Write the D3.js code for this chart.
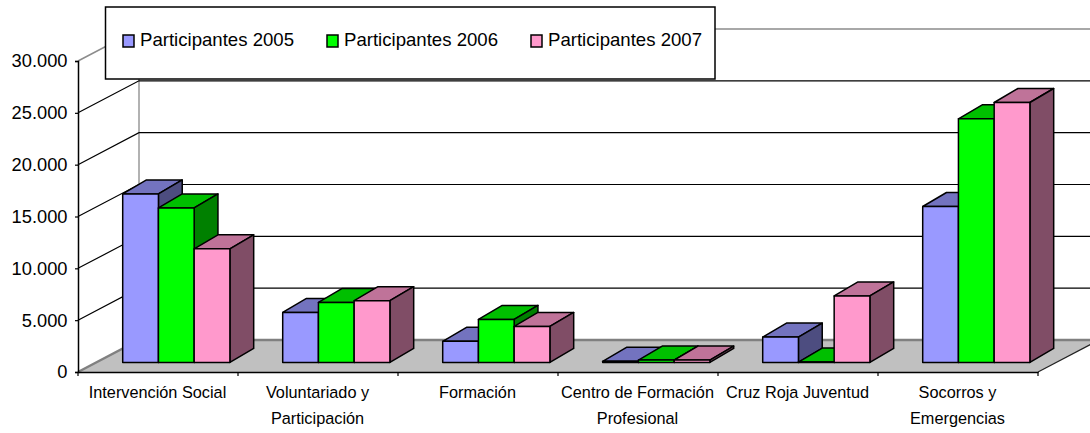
<!DOCTYPE html>
<html>
<head>
<meta charset="utf-8">
<script src="https://cdn.jsdelivr.net/npm/d3@7"></script>
<style>
  html, body { margin: 0; padding: 0; background: #fff; overflow: hidden; }
  text { font-family: "Liberation Sans", Arial, sans-serif; fill: #000; }
</style>
</head>
<body>
<div id="chart"></div>
<script>
const categories = ["Intervención Social", "Voluntariado y Participación", "Formación",
  "Centro de Formación Profesional", "Cruz Roja Juventud", "Socorros y Emergencias"];
const categoryLines = [["Intervención Social"], ["Voluntariado y", "Participación"], ["Formación"],
  ["Centro de Formación", "Profesional"], ["Cruz Roja Juventud"], ["Socorros y", "Emergencias"]];
const seriesNames = ["Participantes 2005", "Participantes 2006", "Participantes 2007"];
const values2005 = [16250, 4820, 2030, 100, 2440, 15040];
const values2006 = [14900, 5790, 4150, 220, 30, 23500];
const values2007 = [10960, 5950, 3470, 220, 6410, 25070];
const yTicks = [0, 5000, 10000, 15000, 20000, 25000, 30000];
const colors = ["#9999ff", "#00ff00", "#ff99cc"];
const seriesValues = [values2005, values2006, values2007];

const width = 1090, height = 433,
  wallX = 61, wallY = -32,   // shift from the front edge to the back wall
  barFront = 0.3, barBack = 0.69;

const x = d3.scaleBand().domain(categories).range([78, 1038]).paddingInner(0.33).paddingOuter(0.165);
const x1 = d3.scaleBand().domain(seriesNames).range([0, x.bandwidth()]);
const y = d3.scaleLinear().domain([0, 30000]).range([372, 61]);
const xFull = d3.scalePoint().domain(categories).range([78, 1038]);

const locale = d3.formatLocale({ decimal: ",", thousands: ".", grouping: [3], currency: ["", "€"] });

const svg = d3.select("#chart").append("svg")
  .attr("width", width)
  .attr("height", height)
  .attr("viewBox", [0, 0, width, height])
  .style("display", "block");

const x0 = x.range()[0], xEnd = x.range()[1];
const pts = p => p.map(d => d.join(",")).join(" ");

// floor
svg.append("polygon")
  .attr("points", pts([[x0, y(0)], [x0 + wallX, y(0) + wallY], [xEnd + wallX, y(0) + wallY], [xEnd, y(0)]]))
  .attr("fill", "#c0c0c0");
svg.append("polyline")
  .attr("points", pts([[x0, y(0)], [x0 + wallX, y(0) + wallY], [xEnd + wallX, y(0) + wallY]]))
  .attr("fill", "none")
  .attr("stroke", "#808080")
  .attr("stroke-width", 2.5);

// back wall grid and left wall lines
svg.append("line")
  .attr("x1", x0 + wallX).attr("x2", x0 + wallX)
  .attr("y1", y(30000) + wallY).attr("y2", y(0) + wallY)
  .attr("stroke", "#999").attr("stroke-width", 1.5);

const gridTicks = yTicks.filter(d => d > 0);
svg.append("g").selectAll("polyline")
  .data(gridTicks)
  .join("polyline")
  .attr("points", d => pts([[x0, y(d)], [x0 + wallX, y(d) + wallY], [xEnd + wallX, y(d) + wallY]]))
  .attr("fill", "none")
  .attr("stroke", d => d === 30000 ? "#8c8c8c" : "#000")
  .attr("stroke-width", d => d === 30000 ? 1.5 : 1.2);

svg.append("line")
  .attr("x1", xEnd).attr("y1", y(0))
  .attr("x2", xEnd + wallX).attr("y2", y(0) + wallY)
  .attr("stroke", "#222").attr("stroke-width", 1.2);

// bars, left to right so later ones cover the earlier side faces
const shade = (c, k) => { const r = d3.rgb(c); return d3.rgb(r.r * k, r.g * k, r.b * k).formatHex(); };
const bars = categories.flatMap((c, i) => seriesNames.map((s, j) => ({
  category: c, series: s, color: colors[j], value: seriesValues[j][i]
})));

const bar = svg.append("g")
  .attr("stroke", "#000")
  .attr("stroke-width", 1.5)
  .attr("stroke-linejoin", "round")
  .selectAll("g")
  .data(bars)
  .join("g");

const fx = d => x(d.category) + x1(d.series) + barFront * wallX;
const fy = v => y(v) + barFront * wallY;
const depthX = (barBack - barFront) * wallX, depthY = -14;

bar.append("polygon")
  .attr("fill", d => shade(d.color, 0.75))
  .attr("points", d => pts([[fx(d), fy(d.value)], [fx(d) + depthX, fy(d.value) + depthY],
    [fx(d) + x1.bandwidth() + depthX, fy(d.value) + depthY], [fx(d) + x1.bandwidth(), fy(d.value)]]));
bar.append("polygon")
  .attr("fill", d => shade(d.color, 0.5))
  .attr("points", d => pts([[fx(d) + x1.bandwidth(), fy(d.value)], [fx(d) + x1.bandwidth() + depthX, fy(d.value) + depthY],
    [fx(d) + x1.bandwidth() + depthX, fy(0) + depthY], [fx(d) + x1.bandwidth(), fy(0)]]));
bar.append("rect")
  .attr("fill", d => d.color)
  .attr("x", fx)
  .attr("y", d => fy(d.value))
  .attr("width", x1.bandwidth())
  .attr("height", d => fy(0) - fy(d.value));

// axes
const yAxis = svg.append("g")
  .attr("transform", `translate(${x0},0)`)
  .call(d3.axisLeft(y).tickValues(yTicks).tickFormat(locale.format(",d")).tickSize(3).tickPadding(7.5));
yAxis.selectAll("line").attr("stroke", "#000").attr("stroke-width", 1.2);
yAxis.select(".domain").attr("stroke", "#000").attr("stroke-width", 1.5);
yAxis.selectAll("text").style("font-size", "18.3px").attr("font-family", null);

const xAxis = svg.append("g")
  .attr("transform", `translate(0,${y(0)})`)
  .call(d3.axisBottom(xFull.copy()).tickValues([]).tickSizeOuter(0));
xAxis.select(".domain").attr("stroke", "#000").attr("stroke-width", 1.5);
xAxis.selectAll(".boundary").data(d3.range(categories.length + 1)).join("line")
  .attr("class", "boundary")
  .attr("x1", i => x0 + i * x.step()).attr("x2", i => x0 + i * x.step())
  .attr("y1", 0).attr("y2", 4)
  .attr("stroke", "#000").attr("stroke-width", 1.2);

const labels = svg.append("g")
  .attr("text-anchor", "middle")
  .style("font-size", "16.3px")
  .selectAll("text")
  .data(categories)
  .join("text")
  .attr("transform", d => `translate(${x(d) + x.bandwidth() / 2 - 0.5},398)`);
labels.selectAll("tspan")
  .data((d, i) => categoryLines[i])
  .join("tspan")
  .attr("x", 0)
  .attr("y", (d, i) => i * 26)
  .text(d => d);

// legend
const legend = svg.append("g");
legend.append("rect")
  .attr("x", 105.5).attr("y", 7)
  .attr("width", 609.5).attr("height", 72)
  .attr("fill", "#fff").attr("stroke", "#000").attr("stroke-width", 1.5);
const legendX = d3.scalePoint().domain(seriesNames).range([123, 531]);
const item = legend.selectAll("g")
  .data(seriesNames)
  .join("g")
  .attr("transform", d => `translate(${legendX(d)},35)`);
item.append("rect")
  .attr("width", 11).attr("height", 12)
  .attr("fill", (d, i) => colors[i])
  .attr("stroke", "#000").attr("stroke-width", 1.5);
item.append("text")
  .attr("x", 17).attr("y", 11)
  .style("font-size", "18.6px")
  .text(d => d);
</script>
</body>
</html>
